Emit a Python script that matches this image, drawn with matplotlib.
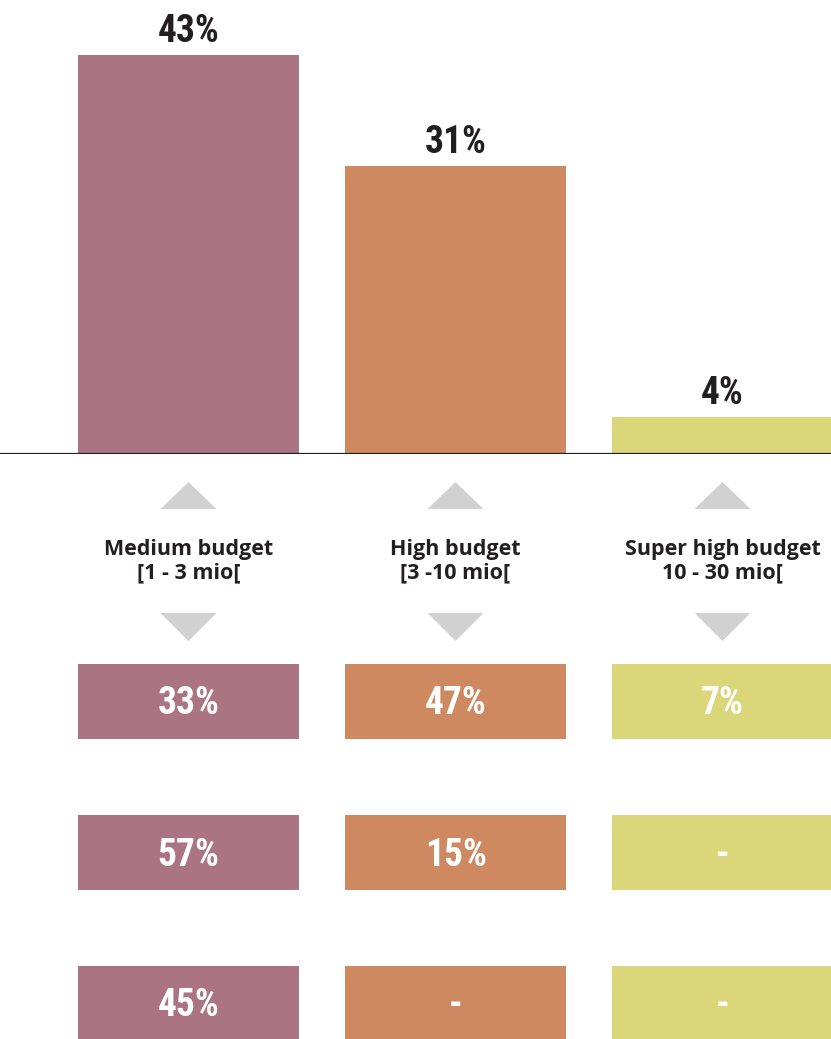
import matplotlib
matplotlib.use("Agg")
import matplotlib.pyplot as plt
import numpy as np

# Budget categories and shares
categories = ["Medium budget\n[1 - 3 mio[", "High budget\n[3 -10 mio[", "Super high budget\n10 - 30 mio["]
share = [43, 31, 4]
row1 = [33, 47, 7]
row2 = [57, 15, None]
row3 = [45, None, None]
rows = [row1, row2, row3]

colors = ["#aa7482", "#ce8961", "#dad679"]
tri_color = "#d0d1d0"
ink = "#231f20"

W, H = 831, 1039
fig = plt.figure(figsize=(W / 100, H / 100), dpi=100)

x = np.arange(len(categories))
xlim = (-188.5 / 267, (W - 188.5) / 267)
bar_w = 221 / 267

num_font = dict(family=["Roboto Condensed", "Open Sans Condensed", "Noto Sans Condensed",
                        "Liberation Sans Narrow", "Roboto"],
                fontweight="bold", fontstretch="condensed")

# --- top: bar chart of shares ---
top_h = 454 / H
ax = fig.add_axes([0, 1 - top_h, 1, top_h])
ax.set_xlim(*xlim)
ax.set_ylim(0, 454 / 9.28)
bars = ax.bar(x, share, width=bar_w, color=colors, zorder=2)
for b, v in zip(bars, share):
    ax.annotate(f"{v}%", (b.get_x() + b.get_width() / 2, v), xytext=(0, 9.4),
                textcoords="offset points", ha="center", va="baseline",
                fontsize=27, color=ink, **num_font)
ax.axhline(0, color=ink, lw=1.6, zorder=3)
ax.axis("off")

# --- bottom: category labels and breakdown boxes ---
bot_h = (H - 454) / H
bx = fig.add_axes([0, 0, 1, bot_h])
bx.set_xlim(*xlim)
bx.set_ylim(H - 454, 0)
bx.axis("off")

tri_half = 28 / 267
for xi in x:
    # up arrow
    bx.fill([xi - tri_half, xi + tri_half, xi], [55, 55, 28], color=tri_color, lw=0)
    # down arrow
    bx.fill([xi - tri_half, xi + tri_half, xi], [159, 159, 187], color=tri_color, lw=0)

for xi, lab in zip(x, categories):
    bx.text(xi, 107, lab, ha="center", va="center", fontsize=15.5,
            family="Open Sans", fontweight="bold", color=ink, linespacing=1.12)

row_top0, row_step, box_h = 210, 151, 75
for r, vals in enumerate(rows):
    top = row_top0 + r * row_step
    bx.bar(x, [box_h] * len(x), bottom=top, width=bar_w, color=colors)
    for xi, v in zip(x, vals):
        txt = f"{v}%" if v is not None else "-"
        # baseline placed so the digits sit centred in the box
        bx.text(xi, top + box_h / 2 + 13, txt, ha="center", va="baseline",
                fontsize=27, color="white", **num_font)

fig.savefig("out.png", dpi=100)
